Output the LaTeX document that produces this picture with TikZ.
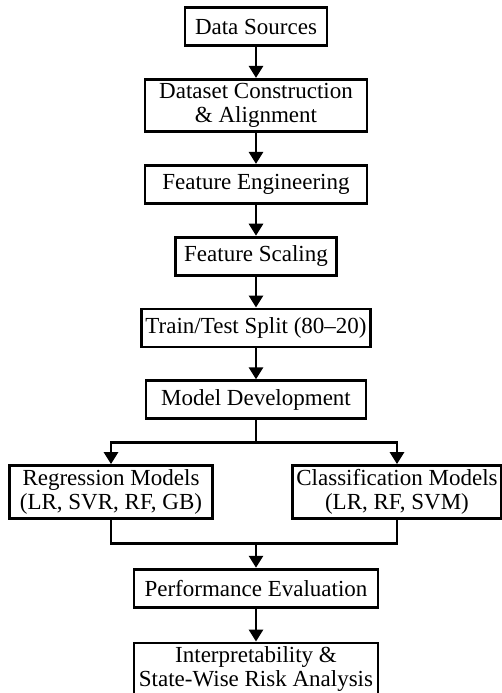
\documentclass[tikz,border=0pt]{standalone}
\usepackage{fontspec}
\setmainfont{Liberation Serif}
\usetikzlibrary{arrows.meta,positioning,calc}

\begin{document}
\begin{tikzpicture}[
    node distance=15.5pt and 20pt,
    box/.style={rectangle, draw=black, line width=1.4pt, align=center, inner sep=2pt, minimum height=19pt, font=\fontsize{11.5}{12}\selectfont},
    tall/.style={box, minimum height=26pt},
    arr/.style={-{Triangle[width=7pt,length=6pt]}, line width=1.4pt},
    link/.style={line width=1.4pt}
]
    \useasboundingbox (0,0) rectangle (251pt,-346.5pt);

    % main chain
    \node [box, minimum width=71pt] (src) at (128pt,-13.25pt) {Data Sources};
    \node [tall, minimum width=111pt, below=of src] (build) {Dataset Construction\\\& Alignment};
    \node [box, minimum width=111pt, below=of build] (feat) {Feature Engineering};
    \node [box, minimum width=80.5pt, below=of feat] (scale) {Feature Scaling};
    \node [box, minimum width=113pt, below=of scale] (split) {Train/Test Split (80--20)};
    \node [box, minimum width=110pt, below=of split] (dev) {Model Development};

    % two model families
    \node [tall, minimum width=101.5pt, below=22pt of dev, xshift=-72.5pt] (reg) {Regression Models\\(LR, SVR, RF, GB)};
    \node [tall, minimum width=103pt, below=22pt of dev, xshift=70.5pt] (cls) {Classification Models\\(LR, RF, SVM)};

    \coordinate (mid) at (reg.south -| dev.south);
    \node [box, minimum width=122pt, below=24pt of mid] (perf) {Performance Evaluation};
    \node [tall, minimum width=122pt, below=16.5pt of perf] (risk) {Interpretability \&\\State-Wise Risk Analysis};

    \draw [arr] (src) -- (build);
    \draw [arr] (build) -- (feat);
    \draw [arr] (feat) -- (scale);
    \draw [arr] (scale) -- (split);
    \draw [arr] (split) -- (dev);

    \coordinate (fork) at ($(dev.south)!0.5!(dev.south |- reg.north)$);
    \draw [link] (dev.south) -- (fork);
    \draw [arr] (fork) -| (reg.north);
    \draw [arr] (fork) -| (cls.north);

    \coordinate (join) at ($(mid)!0.5!(perf.north)$);
    \draw [link] (reg.south) |- (join) -| (cls.south);
    \draw [arr] (join) -- (perf);
    \draw [arr] (perf) -- (risk);
\end{tikzpicture}
\end{document}
